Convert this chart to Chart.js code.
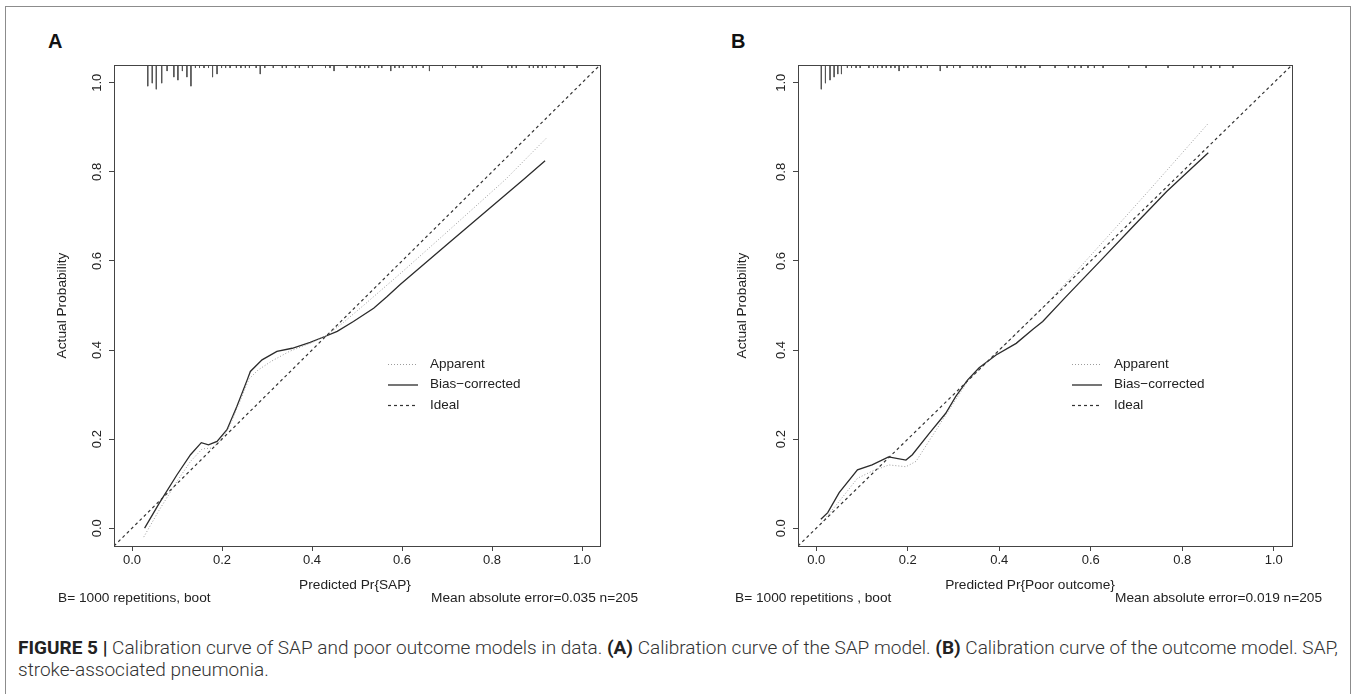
<!DOCTYPE html>
<html>
<head>
<meta charset="utf-8">
<script src="https://cdn.jsdelivr.net/npm/chart.js@4.4.0/dist/chart.umd.min.js"></script>
<style>
  body { margin: 0; background: #fff; width: 1357px; height: 694px; overflow: hidden; position: relative;
         font-family: "Liberation Sans", Arial, sans-serif; }
  .frame { position: absolute; left: 5px; top: 6px; width: 1344px; height: 720px; border: 1.5px solid #8c8c8c; }
  .panel { position: absolute; top: 0; }
  .tag { position: absolute; top: 30px; font: bold 20px "Liberation Sans", Arial, sans-serif; color: #111; }
  .caption { position: absolute; left: 18px; top: 637px; width: 1330px; font: 300 19px Roboto, "Liberation Sans", sans-serif;
             color: #333; line-height: 22px; white-space: nowrap; }
  .caption b { font-weight: 700; color: #222; }
</style>
</head>
<body>
<div class="frame"></div>
<div class="tag" style="left:48px">A</div>
<div class="tag" style="left:731px">B</div>
<div class="panel" style="left:0px"><canvas id="chartA" width="680" height="610"></canvas></div>
<div class="panel" style="left:684px"><canvas id="chartB" width="680" height="610"></canvas></div>
<div class="caption"><b>FIGURE 5 |</b> Calibration curve of SAP and poor outcome models in data. <b>(A)</b> Calibration curve of the SAP model. <b>(B)</b> Calibration curve of the outcome model. SAP,<br>stroke-associated pneumonia.</div>

<script>
// axis setup (R default 4% extension around 0..1)
const xTicks = [0, 0.2, 0.4, 0.6, 0.8, 1.0];
const yTicks = [0, 0.2, 0.4, 0.6, 0.8, 1.0];
const axisMin = -0.04;
const axisMax = 1.04;
const seriesNames = ["Apparent", "Bias-corrected", "Ideal"];

// Panel A - SAP model
const sapApparentX = [0.026, 0.06, 0.10, 0.13, 0.156, 0.178, 0.195, 0.215, 0.24, 0.26, 0.28, 0.31, 0.35, 0.40, 0.43, 0.47, 0.52, 0.60, 0.70, 0.83, 0.92];
const sapApparentY = [-0.02, 0.04, 0.105, 0.15, 0.178, 0.180, 0.195, 0.225, 0.285, 0.335, 0.355, 0.375, 0.397, 0.417, 0.431, 0.462, 0.505, 0.575, 0.665, 0.783, 0.875];
const sapBiasX = [0.028, 0.06, 0.10, 0.13, 0.154, 0.170, 0.189, 0.211, 0.233, 0.256, 0.263, 0.289, 0.322, 0.356, 0.396, 0.430, 0.456, 0.492, 0.537, 0.567, 0.596, 0.70, 0.80, 0.87, 0.918];
const sapBiasY = [0.0, 0.055, 0.12, 0.165, 0.192, 0.187, 0.195, 0.221, 0.273, 0.333, 0.352, 0.378, 0.397, 0.404, 0.417, 0.431, 0.442, 0.464, 0.494, 0.520, 0.547, 0.637, 0.723, 0.783, 0.825];
const sapRugX = [0.035, 0.045, 0.054, 0.066, 0.078, 0.093, 0.102, 0.112, 0.122, 0.131, 0.141, 0.150, 0.160, 0.170, 0.179, 0.189, 0.199, 0.208, 0.218, 0.232, 0.242, 0.252, 0.261, 0.276, 0.285, 0.295, 0.314, 0.334, 0.343, 0.363, 0.372, 0.392, 0.401, 0.430, 0.440, 0.449, 0.478, 0.497, 0.507, 0.517, 0.526, 0.546, 0.555, 0.575, 0.584, 0.594, 0.603, 0.623, 0.632, 0.647, 0.661, 0.690, 0.719, 0.758, 0.767, 0.777, 0.835, 0.844, 0.854, 0.883, 0.892, 0.902, 0.912, 0.921, 0.941, 0.960, 0.989];
const sapRugCount = [7, 6, 8, 6, 2, 4, 5, 2, 4, 7, 1, 1, 1, 1, 4, 3, 1, 1, 1, 1, 1, 1, 1, 1, 3, 1, 1, 1, 1, 1, 1, 1, 1, 1, 1, 2, 1, 1, 1, 1, 1, 1, 1, 2, 1, 1, 1, 1, 1, 1, 2, 1, 1, 1, 1, 1, 1, 1, 1, 1, 1, 1, 1, 1, 1, 1, 1];

// Panel B - poor outcome model
const poorApparentX = [0.01, 0.05, 0.09, 0.122, 0.159, 0.196, 0.218, 0.276, 0.331, 0.36, 0.40, 0.45, 0.50, 0.546, 0.66, 0.729, 0.766, 0.857];
const poorApparentY = [0.01, 0.06, 0.112, 0.128, 0.142, 0.138, 0.150, 0.243, 0.330, 0.36, 0.40, 0.45, 0.50, 0.551, 0.681, 0.760, 0.803, 0.909];
const poorBiasX = [0.01, 0.025, 0.05, 0.09, 0.122, 0.158, 0.196, 0.21, 0.247, 0.283, 0.305, 0.331, 0.356, 0.393, 0.437, 0.473, 0.495, 0.546, 0.62, 0.693, 0.766, 0.817, 0.857];
const poorBiasY = [0.02, 0.035, 0.08, 0.131, 0.142, 0.160, 0.153, 0.165, 0.213, 0.258, 0.296, 0.333, 0.360, 0.389, 0.415, 0.446, 0.464, 0.520, 0.599, 0.678, 0.756, 0.805, 0.843];
const poorRugX = [0.011, 0.020, 0.030, 0.039, 0.047, 0.055, 0.068, 0.077, 0.087, 0.096, 0.115, 0.125, 0.134, 0.144, 0.153, 0.163, 0.172, 0.181, 0.191, 0.200, 0.219, 0.229, 0.243, 0.271, 0.286, 0.300, 0.314, 0.342, 0.352, 0.361, 0.371, 0.380, 0.418, 0.437, 0.447, 0.456, 0.489, 0.522, 0.551, 0.565, 0.579, 0.594, 0.608, 0.627, 0.683, 0.721, 0.769, 0.825, 0.844, 0.863, 0.882, 0.911];
const poorRugCount = [8, 6, 5, 4, 3, 3, 1, 1, 1, 1, 1, 1, 1, 1, 1, 1, 1, 2, 1, 1, 1, 1, 1, 2, 1, 1, 1, 1, 1, 1, 1, 1, 1, 1, 1, 1, 1, 1, 1, 1, 1, 1, 1, 1, 1, 1, 1, 1, 1, 1, 1, 1];

const rugUnit = 0.0068; // tick length per count, in y units
const textFont = "13.7px 'Liberation Sans', Arial, sans-serif";

const zip = (xs, ys) => xs.map((x, i) => ({ x: x, y: ys[i] }));

function rugPoints(xs, counts) {
  const pts = [];
  xs.forEach((x, i) => {
    pts.push({ x: x, y: axisMax }, { x: x, y: axisMax - counts[i] * rugUnit }, { x: x, y: null });
  });
  return pts;
}

const styles = {
  "Apparent": { color: "#9c9c9c", width: 1, dash: [1, 2] },
  "Bias-corrected": { color: "#2b2b2b", width: 1.3, dash: [] },
  "Ideal": { color: "#333", width: 1.2, dash: [3, 3] },
};

// R-like box, rotated y labels, legend and sub texts
const rStyle = {
  id: "rStyle",
  afterDraw(chart, args, opts) {
    const ctx = chart.ctx;
    const a = chart.chartArea;
    const ys = chart.scales.y;
    ctx.save();
    ctx.strokeStyle = "#444";
    ctx.lineWidth = 1;
    ctx.strokeRect(a.left + 0.5, a.top + 0.5, a.right - a.left, a.bottom - a.top);

    ctx.fillStyle = "#222";
    ctx.font = "13px 'Liberation Sans', Arial, sans-serif";
    ctx.textAlign = "center";
    ctx.textBaseline = "middle";
    yTicks.forEach(v => {
      ctx.save();
      ctx.translate(a.left - 16.5, ys.getPixelForValue(v));
      ctx.rotate(-Math.PI / 2);
      ctx.fillText(v.toFixed(1), 0, 0);
      ctx.restore();
    });

    ctx.font = textFont;
    // y title
    ctx.save();
    ctx.translate(a.left - opts.ylabOffset, (a.top + a.bottom) / 2);
    ctx.rotate(-Math.PI / 2);
    ctx.fillText("Actual Probability", 0, 0);
    ctx.restore();

    // x title and subtitles
    ctx.fillText(opts.xlab, opts.xlabX, 585);
    ctx.textAlign = "left";
    ctx.fillText(opts.subLeft, opts.subLeftX, 598);
    ctx.textAlign = "right";
    ctx.fillText(opts.subRight, opts.subRightX, 598);

    // legend
    ctx.font = "13.5px 'Liberation Sans', Arial, sans-serif";
    ctx.textAlign = "left";
    seriesNames.forEach((name, i) => {
      const st = styles[name];
      const y = 364 + i * 20.5;
      const x0 = a.left + 274;
      ctx.save();
      ctx.strokeStyle = st.color;
      ctx.lineWidth = st.width;
      ctx.setLineDash(st.dash);
      ctx.beginPath();
      ctx.moveTo(x0, y + 0.5);
      ctx.lineTo(x0 + 30, y + 0.5);
      ctx.stroke();
      ctx.restore();
      ctx.fillText(name.replace("-", "\u2212"), x0 + 42, y);
    });
    ctx.restore();
  }
};

function makeChart(id, apparent, bias, rug, panelOpts) {
  const datasets = [
    { label: "rug", data: rug, borderColor: "#555", borderWidth: 1 },
    { label: "Ideal", data: [axisMin, axisMax].map(v => ({ x: v, y: v })) },
    { label: "Apparent", data: apparent },
    { label: "Bias-corrected", data: bias },
  ].map(ds => {
    const st = styles[ds.label];
    if (st) {
      ds.borderColor = st.color;
      ds.borderWidth = st.width;
      ds.borderDash = st.dash;
    }
    ds.pointRadius = 0;
    ds.fill = false;
    ds.tension = 0;
    ds.spanGaps = false;
    return ds;
  });

  return new Chart(document.getElementById(id), {
    type: "line",
    data: { datasets: datasets },
    options: {
      responsive: false,
      animation: false,
      devicePixelRatio: 1,
      layout: { padding: { top: 65, right: panelOpts.padRight, left: 0, bottom: 0 } },
      plugins: {
        legend: { display: false },
        tooltip: { enabled: false },
        rStyle: panelOpts,
      },
      scales: {
        x: {
          type: "linear", min: axisMin, max: axisMax,
          afterBuildTicks: s => { s.ticks = xTicks.map(v => ({ value: v })); },
          afterFit: s => { s.height = 64; },
          grid: { drawOnChartArea: false, drawTicks: true, tickLength: 5, color: "#444" },
          border: { display: false },
          ticks: {
            color: "#222", font: { size: 13, family: "'Liberation Sans', Arial, sans-serif" },
            padding: 2, maxRotation: 0, autoSkip: false,
            callback: v => v.toFixed(1),
          },
        },
        y: {
          type: "linear", min: axisMin, max: axisMax,
          afterBuildTicks: s => { s.ticks = yTicks.map(v => ({ value: v })); },
          afterFit: s => { s.width = 114; },
          grid: { drawOnChartArea: false, drawTicks: true, tickLength: 5, color: "#444" },
          border: { display: false },
          ticks: { display: false },
        },
      },
    },
    plugins: [rStyle],
  });
}

makeChart("chartA", zip(sapApparentX, sapApparentY), zip(sapBiasX, sapBiasY), rugPoints(sapRugX, sapRugCount), {
  padRight: 80, ylabOffset: 52, xlab: "Predicted Pr{SAP}", xlabX: 355,
  subLeft: "B= 1000 repetitions, boot", subLeftX: 58,
  subRight: "Mean absolute error=0.035 n=205", subRightX: 638,
});
makeChart("chartB", zip(poorApparentX, poorApparentY), zip(poorBiasX, poorBiasY), rugPoints(poorRugX, poorRugCount), {
  padRight: 72, ylabOffset: 56, xlab: "Predicted Pr{Poor outcome}", xlabX: 346,
  subLeft: "B= 1000 repetitions , boot", subLeftX: 51,
  subRight: "Mean absolute error=0.019 n=205", subRightX: 638,
});
</script>
</body>
</html>
